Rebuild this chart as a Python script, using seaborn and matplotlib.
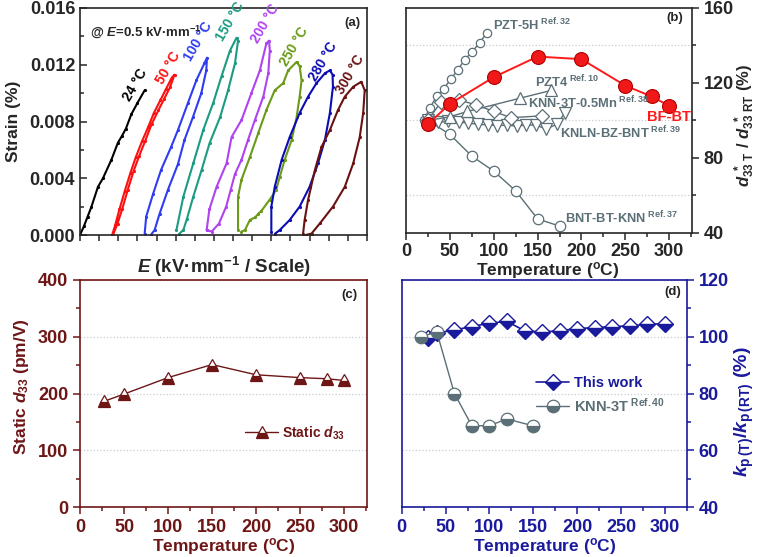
import matplotlib
matplotlib.use("Agg")
import matplotlib.pyplot as plt
from matplotlib.ticker import MultipleLocator, FormatStrFormatter
import seaborn as sns
import pandas as pd

sns.set_style("ticks")
plt.rcParams['font.family'] = ['Liberation Sans', 'DejaVu Sans']
plt.rcParams['font.weight'] = 'bold'
plt.rcParams['axes.labelweight'] = 'bold'
plt.rcParams['mathtext.fontset'] = 'custom'
plt.rcParams['mathtext.rm'] = 'Liberation Sans:bold'
plt.rcParams['mathtext.it'] = 'Liberation Sans:italic:bold'
plt.rcParams['mathtext.bf'] = 'Liberation Sans:bold'
plt.rcParams['mathtext.sf'] = 'Liberation Sans:bold'

# ---------------- data: panel (a) strain loops (x in scale units, strain in 1e-3 %) ----
loop_temps = ["24 °C", "50 °C", "100 °C", "150 °C", "200 °C", "250 °C", "280 °C", "300 °C"]
loop_colors = ['#000000', '#ff1010', '#2f3cf2', '#1b9b82', '#b043f0', '#6a9a18', '#0c0cb4', '#6a1212']

t24_x = [0.00, 0.10, 0.20, 0.30, 0.47, 0.60, 0.82, 0.99, 1.10, 1.20, 1.34, 1.50, 1.69]
t24_y = [0.0, 0.6, 1.3, 2.0, 3.4, 4.0, 5.3, 6.5, 7.0, 7.5, 8.5, 9.3, 10.2]

t50_x = [0.86, 0.98, 1.10, 1.25, 1.40, 1.55, 1.70, 1.87, 2.05, 2.20, 2.35, 2.47,
         2.40, 2.25, 2.10, 1.93, 1.78, 1.62, 1.46, 1.32, 1.17, 1.03, 0.92, 0.84]
t50_y = [0.0, 0.8, 1.8, 3.2, 4.5, 5.6, 6.6, 7.8, 8.8, 9.6, 10.4, 11.3,
         11.1, 10.3, 9.5, 8.6, 7.6, 6.6, 5.5, 4.4, 3.1, 1.8, 0.7, 0.0]

t100_x = [1.69, 1.73, 1.91, 2.12, 2.38, 2.56, 2.82, 3.04, 3.25, 3.32,
          3.30, 3.17, 2.95, 2.73, 2.56, 2.30, 2.08, 1.95, 1.85]
t100_y = [0.1, 1.3, 2.9, 4.6, 6.2, 7.4, 9.3, 10.9, 12.1, 12.5,
          11.6, 10.0, 8.3, 6.7, 5.0, 3.2, 1.5, 0.35, 0.0]

t150_x = [2.52, 2.70, 2.96, 3.22, 3.48, 3.70, 3.92, 4.09,
          4.13, 4.05, 3.87, 3.66, 3.39, 3.18, 2.96, 2.79, 2.70, 2.60]
t150_y = [0.35, 2.7, 5.05, 7.4, 9.3, 11.2, 13.0, 13.9,
          13.7, 12.1, 10.2, 8.3, 6.5, 4.6, 2.7, 1.1, 0.35, 0.1]

t200_x = [3.31, 3.38, 3.57, 3.83, 3.96, 4.22, 4.48, 4.70, 4.87, 4.94,
          4.96, 4.92, 4.79, 4.57, 4.39, 4.22, 4.05, 3.94, 3.82, 3.63, 3.44, 3.31]
t200_y = [0.35, 1.8, 3.4, 5.05, 6.9, 8.1, 10.0, 11.6, 13.5, 13.7,
          13.0, 11.4, 9.75, 8.1, 6.7, 5.3, 4.3, 3.2, 2.0, 0.8, 0.24, 0.35]

t250_x = [4.13, 4.13, 4.22, 4.44, 4.66, 4.87, 5.09, 5.31, 5.44, 5.66, 5.74, 5.79,
          5.74, 5.66, 5.53, 5.35, 5.22, 5.13, 4.96, 4.74, 4.66, 4.58, 4.44, 4.31, 4.22]
t250_y = [0.35, 2.7, 3.9, 5.5, 7.2, 8.8, 10.2, 10.7, 11.6, 12.2, 11.9, 10.9,
          9.75, 8.3, 6.7, 5.3, 4.1, 3.2, 2.5, 1.7, 1.5, 1.25, 1.06, 0.35, 0.24]

t280_x = [5.00, 5.00, 5.09, 5.27, 5.48, 5.74, 5.96, 6.18, 6.40, 6.53, 6.60,
          6.61, 6.53, 6.40, 6.22, 6.00, 5.74, 5.48, 5.22, 5.10]
t280_y = [0.24, 2.0, 3.4, 5.3, 6.9, 8.6, 9.75, 10.7, 11.4, 11.6, 11.3,
          10.45, 8.6, 6.7, 5.05, 3.4, 2.0, 1.06, 0.35, 0.1]

t300_x = [5.83, 5.87, 5.96, 6.14, 6.31, 6.53, 6.74, 6.92, 7.14, 7.35, 7.44,
          7.40, 7.31, 7.14, 6.92, 6.61, 6.27, 6.05, 5.90]
t300_y = [0.1, 1.06, 2.47, 4.6, 6.2, 7.4, 8.8, 9.75, 10.45, 10.8, 10.2,
          8.6, 6.9, 5.05, 3.4, 2.0, 0.82, 0.1, 0.0]

loops_x = [t24_x, t50_x, t100_x, t150_x, t200_x, t250_x, t280_x, t300_x]
loops_y = [t24_y, t50_y, t100_y, t150_y, t200_y, t250_y, t280_y, t300_y]
label_x = [1.44, 2.31, 3.09, 3.92, 4.83, 5.61, 6.35, 7.05]
label_y = [0.01057, 0.01175, 0.01363, 0.01503, 0.01492, 0.01327, 0.01222, 0.01128]

# ---------------- data: panel (b) ----------------
bfbt_T = [25, 50, 100, 150, 200, 250, 280, 300]
bfbt_v = [98, 108.9, 123.1, 134.1, 132.7, 118.6, 112.8, 107.8]
pzt5h_T = [20, 27, 35, 43, 51, 59, 67, 75, 84, 92]
pzt5h_v = [100, 106.5, 113, 117, 122, 127, 132.5, 136.5, 141.5, 146.7]
pzt4_T = [25, 50, 70, 130, 165]
pzt4_v = [100, 102, 104.8, 111.9, 116]
knnmn_T = [25, 40, 60, 80, 100, 120, 155]
knnmn_v = [100, 110, 111, 108.3, 104.8, 101.5, 102.5]
knln_T = [25, 37, 48, 60, 71, 82, 94, 104, 115, 126, 137, 148, 160, 172, 181]
knln_v = [100, 99, 99.5, 99.2, 98.6, 98, 97.6, 97.3, 97.5, 97, 97.6, 97.5, 95.5, 98, 104]
bnt_T = [25, 50, 75, 100, 125, 150, 175]
bnt_v = [100, 92.6, 81, 73, 62.5, 47.5, 43.7]

# ---------------- data: panel (c) ----------------
c_T = [27, 50, 100, 150, 200, 250, 280, 300]
c_d33 = [186, 199, 228, 251, 233, 228, 226, 223]

# ---------------- data: panel (d) ----------------
d_T = [30, 40, 60, 80, 100, 120, 140, 160, 180, 200, 220, 240, 260, 280, 300]
d_kp = [99.5, 101.3, 102.4, 103.6, 104.8, 105.4, 102.1, 101.7, 102.1, 102.9, 103.2, 103.6, 103.8, 104.4, 104.6]
knn_T = [22, 40, 60, 80, 100, 120, 150]
knn_kp = [100, 101.7, 80, 68.6, 68.7, 71, 68.6]

W, H = 758, 557
fig = plt.figure(figsize=(W / 100, H / 100), dpi=100)
axA = fig.add_axes([80 / W, 1 - 235 / H, 287 / W, 227 / H])
axB = fig.add_axes([406 / W, 1 - 233 / H, 286 / W, 225 / H])
axC = fig.add_axes([80 / W, 1 - 507 / H, 287 / W, 227 / H])
axD = fig.add_axes([401.7 / W, 1 - 507 / H, 285.3 / W, 227 / H])

TICK_FS = 13
LAB_FS = 12.5
GRAY = '#5b6f76'
MAROON = '#6e1616'
NAVY = '#1a1a9c'

for ax in (axA, axB, axC, axD):
    for s in ax.spines.values():
        s.set_linewidth(1.2)

# ---------------- panel (a) ----------------
for xs, ys, col, lab, lx, ly in zip(loops_x, loops_y, loop_colors, loop_temps, label_x, label_y):
    df = pd.DataFrame({'x': xs, 'y': [v * 1e-3 for v in ys]})
    sns.lineplot(data=df, x='x', y='y', ax=axA, sort=False, estimator=None, color=col,
                 lw=1.5, marker='.', markersize=3, markeredgecolor=col, markerfacecolor=col)
    axA.text(lx, ly, lab, color=col, fontsize=10, fontweight='bold', rotation=60,
             ha='center', va='center', rotation_mode='anchor')
axA.set_xlim(0, 7.5)
axA.set_ylim(0, 0.016)
axA.xaxis.set_major_locator(MultipleLocator(0.5))
axA.set_xticklabels([])
axA.yaxis.set_major_locator(MultipleLocator(0.004))
axA.yaxis.set_minor_locator(MultipleLocator(0.002))
axA.yaxis.set_major_formatter(FormatStrFormatter('%.3f'))
axA.tick_params(axis='y', which='major', direction='in', length=5, width=1.1, labelsize=TICK_FS)
axA.tick_params(axis='y', which='minor', direction='in', length=3, width=1.1)
axA.tick_params(axis='x', which='major', direction='out', length=4, width=1.1)
axA.set_xlabel(r'$E$ (kV·mm$^{-1}$ / Scale)', fontsize=13.5, fontweight='bold')
axA.xaxis.set_label_coords(0.5, -0.088)
axA.set_ylabel('Strain (%)', fontsize=LAB_FS, fontweight='bold')
axA.yaxis.set_label_coords(-0.206, 0.5)
axA.text(0.035, 0.894, r'@ $E$=0.5 kV·mm$^{-1}$', transform=axA.transAxes, fontsize=9.5,
         fontweight='bold', ha='left', va='center')
axA.text(0.948, 0.934, '(a)', transform=axA.transAxes, fontsize=9.5, fontweight='bold',
         ha='center', va='center')

# ---------------- panel (b) ----------------
gray_series = [(pzt5h_T, pzt5h_v, 'o', 6), (bnt_T, bnt_v, 'o', 7.5), (knln_T, knln_v, 'v', 8),
               (pzt4_T, pzt4_v, '^', 8), (knnmn_T, knnmn_v, 'D', 7)]
for T, v, m, ms in gray_series:
    sns.lineplot(x=T, y=v, ax=axB, sort=False, estimator=None, color=GRAY, lw=1.0,
                 marker=m, markersize=ms, markerfacecolor='white', markeredgecolor=GRAY,
                 markeredgewidth=0.9)
sns.lineplot(x=bfbt_T, y=bfbt_v, ax=axB, sort=False, estimator=None, color='#ff1a1a', lw=1.4,
             marker='o', markersize=10, markerfacecolor='#f01818', markeredgecolor='#b00000',
             markeredgewidth=0.8)
axB.set_xlim(0, 326)
axB.set_ylim(40, 160)
axB.yaxis.tick_right()
axB.yaxis.set_label_position('right')
axB.xaxis.set_major_locator(MultipleLocator(50))
axB.xaxis.set_minor_locator(MultipleLocator(25))
axB.yaxis.set_major_locator(MultipleLocator(40))
axB.yaxis.set_minor_locator(MultipleLocator(20))
axB.tick_params(which='major', direction='out', length=5, width=1.1, labelsize=TICK_FS)
axB.tick_params(axis='x', which='major', pad=2)
axB.tick_params(which='minor', direction='out', length=3, width=1.1)
axB.grid(which='minor', axis='y', color='#c8cdd0', ls=':', lw=0.9)
axB.set_xlabel(r'Temperature ($^{\mathrm{o}}$C)', fontsize=LAB_FS, fontweight='bold')
axB.xaxis.set_label_coords(0.497, -0.122)
axB.set_ylabel(r'$d^{\ *}_{33\ \mathrm{T}}\ /\ d^{\ *}_{33\ \mathrm{RT}}\ \mathrm{(\%)}$',
               fontsize=12, rotation=90)
axB.yaxis.set_label_coords(1.142, 0.48)
btxt = [(99.6, 150.9, r'PZT-5H$^{\ \mathrm{Ref.32}}$'),
        (147, 120.7, r'PZT4$^{\ \mathrm{Ref.10}}$'),
        (139.5, 109.2, r'KNN-3T-0.5Mn$^{\ \mathrm{Ref.38}}$'),
        (175.6, 93.2, r'KNLN-BZ-BNT$^{\ \mathrm{Ref.39}}$'),
        (181.3, 47.8, r'BNT-BT-KNN$^{\ \mathrm{Ref.37}}$')]
for x, y, s in btxt:
    axB.text(x, y, s, color=GRAY, fontsize=9.3, fontweight='bold', ha='left', va='center')
axB.text(274.4, 102, 'BF-BT', color='#ff1a1a', fontsize=10.5, fontweight='bold', ha='left', va='center')
axB.text(0.94, 0.955, '(b)', transform=axB.transAxes, fontsize=9.5, fontweight='bold',
         ha='center', va='center')

# ---------------- panel (c) ----------------
sns.lineplot(x=c_T, y=c_d33, ax=axC, sort=False, estimator=None, color=MAROON, lw=1.0,
             marker='^', markersize=9, fillstyle='bottom', markerfacecolor=MAROON,
             markerfacecoloralt='white', markeredgecolor=MAROON, markeredgewidth=0.9,
             label=r'Static $d_{33}$')
axC.set_xlim(0, 326)
axC.set_ylim(0, 400)
axC.xaxis.set_major_locator(MultipleLocator(50))
axC.xaxis.set_minor_locator(MultipleLocator(25))
axC.yaxis.set_major_locator(MultipleLocator(100))
axC.yaxis.set_minor_locator(MultipleLocator(50))
axC.tick_params(which='major', direction='out', length=5, width=1.1, labelsize=TICK_FS,
                colors=MAROON)
axC.tick_params(which='minor', direction='out', length=3, width=1.1, colors=MAROON)
axC.grid(which='major', axis='y', color='#c8cdd0', ls=':', lw=0.9)
for s in axC.spines.values():
    s.set_color(MAROON)
axC.set_xlabel(r'Temperature ($^{\mathrm{o}}$C)', fontsize=LAB_FS, fontweight='bold', color=MAROON)
axC.xaxis.set_label_coords(0.5, -0.128)
axC.set_ylabel(r'Static $d_{33}$ (pm/V)', fontsize=LAB_FS, fontweight='bold', color=MAROON)
axC.yaxis.set_label_coords(-0.171, 0.53)
legC = axC.legend(loc='center left', bbox_to_anchor=(0.555, 0.326), frameon=False,
                  fontsize=10, handlelength=2.4, handletextpad=0.3, borderaxespad=0)
for t in legC.get_texts():
    t.set_color(MAROON)
axC.text(0.94, 0.934, '(c)', transform=axC.transAxes, fontsize=9.5, fontweight='bold',
         ha='center', va='center', color='#222222')

# ---------------- panel (d) ----------------
sns.lineplot(x=d_T, y=d_kp, ax=axD, sort=False, estimator=None, color=NAVY, lw=1.2,
             marker='D', markersize=8, fillstyle='bottom', markerfacecolor=NAVY,
             markerfacecoloralt='white', markeredgecolor=NAVY, markeredgewidth=1.0,
             label='This work')
sns.lineplot(x=knn_T, y=knn_kp, ax=axD, sort=False, estimator=None, color=GRAY, lw=1.0,
             marker='o', markersize=9, fillstyle='bottom', markerfacecolor=GRAY,
             markerfacecoloralt='white', markeredgecolor=GRAY, markeredgewidth=0.9,
             label=r'KNN-3T$^{\ \mathrm{Ref.40}}$')
axD.set_xlim(0, 325)
axD.set_ylim(40, 120)
axD.yaxis.tick_right()
axD.yaxis.set_label_position('right')
axD.xaxis.set_major_locator(MultipleLocator(50))
axD.xaxis.set_minor_locator(MultipleLocator(25))
axD.yaxis.set_major_locator(MultipleLocator(20))
axD.yaxis.set_minor_locator(MultipleLocator(10))
axD.tick_params(which='major', direction='out', length=5, width=1.1, labelsize=TICK_FS,
                colors=NAVY)
axD.tick_params(which='minor', direction='out', length=3, width=1.1, colors=NAVY)
axD.grid(which='major', axis='y', color='#c8cdd0', ls=':', lw=0.9)
for s in axD.spines.values():
    s.set_color(NAVY)
axD.set_xlabel(r'Temperature ($^{\mathrm{o}}$C)', fontsize=LAB_FS, fontweight='bold', color=NAVY)
axD.xaxis.set_label_coords(0.5, -0.128)
axD.set_ylabel(r'$k_{\mathrm{p\,(T)}}/k_{\mathrm{p\,(RT)}}\ \mathrm{(\%)}$', fontsize=LAB_FS + 1.5,
               color=NAVY, rotation=90)
axD.yaxis.set_label_coords(1.16, 0.42)
legD = axD.legend(loc='center left', bbox_to_anchor=(0.45, 0.493), frameon=False,
                  fontsize=10.5, handlelength=2.3, handletextpad=0.3, borderaxespad=0,
                  labelspacing=0.45)
legD.get_texts()[0].set_color(NAVY)
legD.get_texts()[1].set_color(GRAY)
axD.text(0.951, 0.947, '(d)', transform=axD.transAxes, fontsize=9.5, fontweight='bold',
         ha='center', va='center', color='#222222')

fig.savefig('out.png', dpi=100)
